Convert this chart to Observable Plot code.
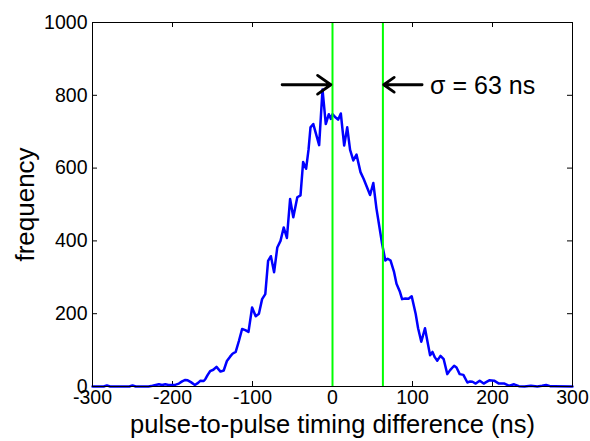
<!DOCTYPE html>
<html><head><meta charset="utf-8">
<script src="https://cdn.jsdelivr.net/npm/d3@7"></script>
<script src="https://cdn.jsdelivr.net/npm/@observablehq/plot@0.6"></script>
<style>body{margin:0;background:#fff}</style>
</head><body><div id="chart"></div>
<script>
// pulse-to-pulse timing difference (ns) and histogram frequency
const timing = [-300,-286,-282,-278,-254,-250,-246,-230,-225,-217,-213,-209,-205,-200,-196,-192,-188,-184,-181,-177,-172,-168,-165,-161,-159,-156,-153,-149,-145,-140,-136,-132,-128,-125,-121,-117,-113,-109,-105,-100.5,-96,-92,-88,-84,-80.5,-77,-73,-69,-65,-61,-57,-53,-49,-44,-40,-36.7,-33,-30,-27.5,-24,-20,-16.7,-12.5,-8.4,-4.6,-2,0,4,7,10.4,14.6,18.4,22,26,30,35,39,43,47,51,55,57,59,62,66,69,72.6,77,80,84,87,91,95,99,104,107,111,115.6,119,122,125,128,131,135,139,143.5,147,152,155,159,163.6,168.6,172,175,179,184,189,192,196,202,208,215,221,227,233,240,248,256,262,267,272,277,300];
const frequency = [0,0,3,0,0,3,0,0,2,6,4,6,4,4,5,8,14,18,17,12,4,10,16,15,20,32,42,46,54,41,44,70,82,90,95,125,158,155,150,217,193,200,240,254,345,358,314,382,400,437,408,515,465,520,525,617,598,650,712,721,689,663,816,721,748,735,748,739,733,750,662,712,650,621,637,589,570,548,526,559,488,461,433,392,346,351,346,314,282,262,240,242,241,248,199,160,123,160,120,86,95,80,71,84,75,34,45,57,52,34,32,11,14,13,8,16,8,12,17,16,8,8,2,6,1,0,2,0,2,4,1,1,0];

const xTicks = [-300, -200, -100, 0, 100, 200, 300];
const yTicks = [0, 200, 400, 600, 800, 1000];
const markerLines = [0, 63];          // green vertical lines (ns)
const arrowStart = [-63, 112];        // annotation arrows: start x (ns)
const arrowEnd = [-2, 64];            // annotation arrows: end x (ns)
const arrowLevel = [829, 829];        // annotation arrows: y (frequency)
const sigmaText = ["σ = 63 ns"];
const sigmaX = [122];
const sigmaY = [826];
const xLabel = "pulse-to-pulse timing difference (ns)";
const yLabel = "frequency";

const data = timing.map((t, i) => ({t, f: frequency[i]}));
const arrows = arrowStart.map((x1, i) => ({x1, x2: arrowEnd[i], y: arrowLevel[i]}));
const notes = sigmaText.map((s, i) => ({s, x: sigmaX[i], y: sigmaY[i]}));

const W = 590, H = 441, ml = 92, mr = 18, mt = 22, mb = 55;
const innerW = W - ml - mr, innerH = H - mt - mb, tk = 5;

const chart = Plot.plot({
  width: W, height: H,
  marginLeft: ml, marginRight: mr, marginTop: mt, marginBottom: mb,
  style: {fontFamily: "'Liberation Sans', Arial, sans-serif", background: "white", color: "black", overflow: "visible"},
  x: {domain: [-300, 300]},
  y: {domain: [0, 1000]},
  marks: [
    Plot.axisX({ticks: xTicks, tickSize: 0, tickPadding: 4, fontSize: 19.5, tickFormat: d => String(d), label: null}),
    Plot.axisY({ticks: yTicks, tickSize: 0, tickPadding: 5, fontSize: 19.5, tickFormat: d => String(d), label: null}),
    Plot.ruleX(xTicks, {insetTop: innerH - tk, stroke: "black"}),
    Plot.ruleX(xTicks, {insetBottom: innerH - tk, stroke: "black"}),
    Plot.ruleY(yTicks, {insetRight: innerW - tk, stroke: "black"}),
    Plot.ruleY(yTicks, {insetLeft: innerW - tk, stroke: "black"}),
    Plot.line(data, {x: "t", y: "f", stroke: "#0000ff", strokeWidth: 2.5}),
    Plot.ruleX(markerLines, {stroke: "#00ff00", strokeWidth: 2}),
    Plot.arrow(arrows, {x1: "x1", x2: "x2", y1: "y", y2: "y", stroke: "black", strokeWidth: 2.8, headLength: 12, headAngle: 70}),
    Plot.text(notes, {x: "x", y: "y", text: "s", textAnchor: "start", fontSize: 25, fill: "black"}),
    Plot.frame({stroke: "black"}),
    Plot.text([xLabel], {text: d => d, frameAnchor: "bottom", textAnchor: "middle", lineAnchor: "middle", dy: 38, fontSize: 25.5, fill: "black"}),
    Plot.text([yLabel], {text: d => d, frameAnchor: "left", textAnchor: "middle", lineAnchor: "middle", rotate: -90, dx: -67, fontSize: 26, fill: "black"})
  ]
});
document.getElementById("chart").append(chart);
</script>
</body></html>
